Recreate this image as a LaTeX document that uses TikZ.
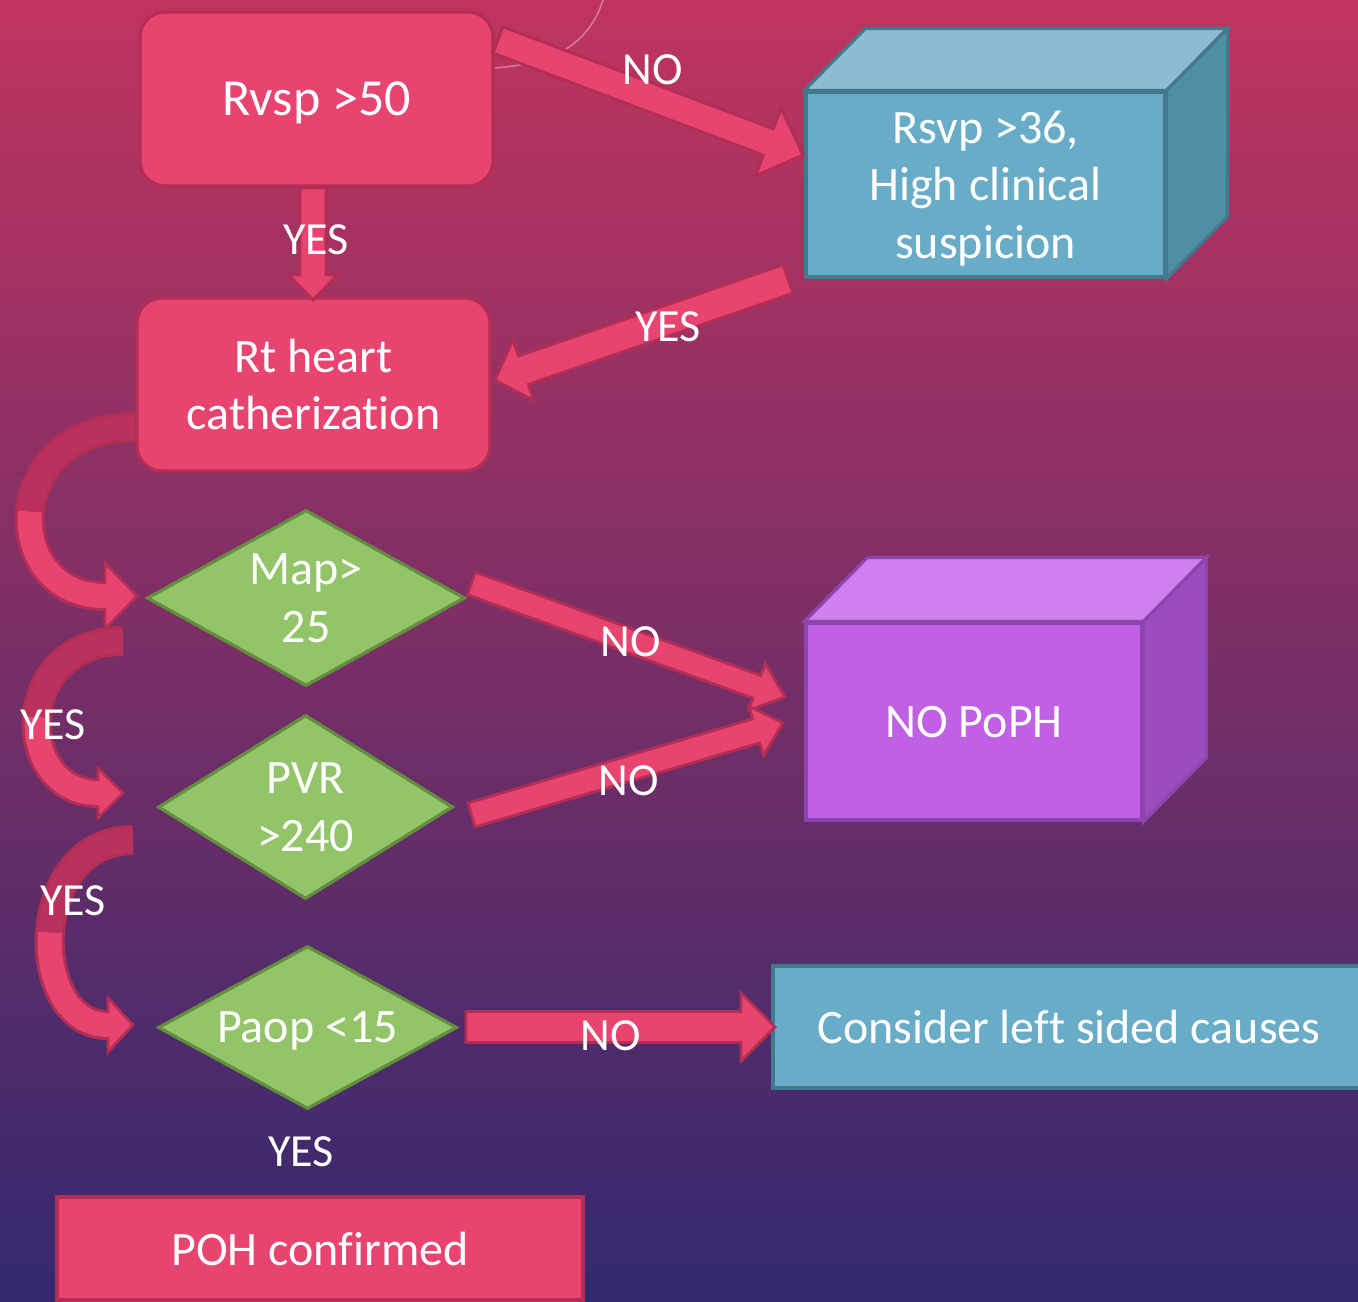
\documentclass[tikz,border=0pt]{standalone}
\usepackage{fontspec}
\setmainfont{Carlito}[Ligatures={NoCommon,NoContextual}]
\usetikzlibrary{calc,shapes.geometric}
\definecolor{bgtop}{RGB}{192,52,95}
\definecolor{bgmid}{RGB}{128,46,114}
\definecolor{bgbot}{RGB}{50,41,110}
\definecolor{pinkf}{RGB}{232,68,112}
\definecolor{pinkb}{RGB}{178,46,84}
\definecolor{pinkdark}{RGB}{185,49,92}
\definecolor{greenf}{RGB}{148,196,106}
\definecolor{greenb}{RGB}{98,142,62}
\definecolor{bluef}{RGB}{104,172,200}
\definecolor{bluetopc}{RGB}{138,189,211}
\definecolor{bluesidec}{RGB}{80,142,163}
\definecolor{blueb}{RGB}{66,121,141}
\definecolor{purf}{RGB}{192,96,229}
\definecolor{purtopc}{RGB}{206,128,238}
\definecolor{pursidec}{RGB}{155,77,190}
\definecolor{purb}{RGB}{141,69,173}
\newcommand\fatarrow[5]{%
  \coordinate (fa-h) at ($(#2)!#5!(#1)$);
  \draw[fatarr] ($(#1)!#3!90:(#2)$) -- ($(fa-h)!#3!90:(#2)$) -- ($(fa-h)!#4!90:(#2)$) -- (#2)
    -- ($(fa-h)!#4!-90:(#2)$) -- ($(fa-h)!#3!-90:(#2)$) -- ($(#1)!#3!-90:(#2)$) -- cycle;
}
\begin{document}
\begin{tikzpicture}[x=0.5pt,y=-0.5pt,
  txt/.style={text=white,font=\fontsize{24}{28.75}\selectfont,align=center,text depth=0pt},
  lbl/.style={text=white,font=\fontsize{23}{27}\selectfont,inner sep=0pt},
  pinkbox/.style={txt,draw=pinkb,fill=pinkf,line width=1.6pt,inner sep=0pt},
  greendia/.style={txt,diamond,draw=greenb,fill=greenf,line width=1.6pt,inner sep=0pt},
  fatarr/.style={draw=pinkb,fill=pinkf,line width=1.4pt,line join=miter},
  bandborder/.style={draw=pinkb,line width=15pt},
  bandlight/.style={draw=pinkf,line width=12pt},
  banddark/.style={draw=pinkdark,line width=12pt},
  headtri/.style={draw=pinkb,fill=pinkf,line width=1.4pt,line join=miter}]
\useasboundingbox (0,0) rectangle (1358,1301);
\clip (0,0) rectangle (1358,1301);
\shade[top color=bgtop,middle color=bgmid,bottom color=bgbot] (0,0) rectangle (1358,1301);
\draw[white,opacity=0.35,line width=0.8pt] (603,0) .. controls (590,40) and (560,64) .. (493,68);

% boxes
\node[pinkbox,rounded corners=12.5pt,minimum width=176.5pt,minimum height=87pt,font=\fontsize{26}{30}\selectfont] (rv) at (316.5,99) {Rvsp >50};
\node[pinkbox,rounded corners=12.5pt,minimum width=176.5pt,minimum height=86.5pt] (rt) at (313.5,384.5) {Rt heart\\catherization};

% blue 3D box
\node[txt,draw=blueb,fill=bluef,line width=1.6pt,minimum width=179.5pt,minimum height=92.5pt,inner sep=0pt] (rs) at (985.5,184.5) {Rsvp >36,\\High clinical\\suspicion};
\draw[draw=blueb,fill=bluetopc,line width=1.6pt,line join=miter] (rs.north west) -- ++(61,-62) -- ($(rs.north east)+(61,-62)$) -- (rs.north east) -- cycle;
\draw[draw=blueb,fill=bluesidec,line width=1.6pt,line join=miter] (rs.north east) -- ++(61,-62) -- ($(rs.south east)+(61,-62)$) -- (rs.south east) -- cycle;

% purple 3D box
\node[txt,draw=purb,fill=purf,line width=1.6pt,minimum width=168pt,minimum height=98.5pt,inner sep=0pt] (np) at (974,721.5) {NO PoPH};
\draw[draw=purb,fill=purtopc,line width=1.6pt,line join=miter] (np.north west) -- ++(63,-64) -- ($(np.north east)+(63,-64)$) -- (np.north east) -- cycle;
\draw[draw=purb,fill=pursidec,line width=1.6pt,line join=miter] (np.north east) -- ++(63,-64) -- ($(np.south east)+(63,-64)$) -- (np.south east) -- cycle;

% diamonds
\node[greendia,aspect=1.8,minimum width=159pt,minimum height=88pt] (map) at (306,598) {Map>\\25};
\node[greendia,aspect=1.6,minimum width=147.5pt,minimum height=92pt] (pvr) at (305.5,807) {PVR\\>240};
\node[greendia,aspect=1.83,minimum width=149.5pt,minimum height=81.5pt] (paop) at (307.5,1027.5) {Paop <15};

% other boxes
\node[txt,draw=blueb,fill=bluef,line width=1.6pt,minimum width=296pt,minimum height=61pt,inner sep=0pt] (cl) at (1069,1027) {Consider left sided causes};
\node[pinkbox,minimum width=263pt,minimum height=51.5pt] (poh) at (320,1248.5) {POH confirmed};

% straight fat arrows
\coordinate (a1s) at (498,40);   \coordinate (a1e) at (803,155);
\coordinate (a2s) at (313,188);  \coordinate (a2e) at (313,300);
\coordinate (a3s) at (788,279);  \coordinate (a3e) at (495,380);
\coordinate (a4s) at (471.5,583.5); \coordinate (a4e) at (785,697);
\coordinate (a5s) at (471.5,815); \coordinate (a5e) at (783,723);
\coordinate (a6s) at (466,1027); \coordinate (a6e) at (775,1027);
\fatarrow{a1s}{a1e}{7pt}{18pt}{18.5pt}
\fatarrow{a2s}{a2e}{6.5pt}{12pt}{12.5pt}
\fatarrow{a3s}{a3e}{7.5pt}{16pt}{15pt}
\fatarrow{a4s}{a4e}{6pt}{12.5pt}{15pt}
\fatarrow{a5s}{a5e}{6.25pt}{13pt}{14pt}
\fatarrow{a6s}{a6e}{7.75pt}{17pt}{17pt}

% curved arrows
\coordinate (c1s) at (135,427); \coordinate (c1m) at (30,511.5); \coordinate (c1e) at (105,596); \coordinate (c1t) at (137,596);
\coordinate (c2s) at (123,641); \coordinate (c2m) at (36.9,717); \coordinate (c2e) at (98,793); \coordinate (c2t) at (123,793);
\coordinate (c3s) at (133,840); \coordinate (c3m) at (50,932.5); \coordinate (c3e) at (108,1025); \coordinate (c3t) at (133,1025);
\draw[bandborder] (c1s) .. controls (67.5,427) and (33.75,469.25) .. (c1m) .. controls (26.25,553.75) and (52.5,596) .. (c1e);
\draw[bandborder] (c2s) .. controls (67.5,641) and (39.75,679) .. (c2m) .. controls (34,755) and (56,793) .. (c2e);
\draw[bandborder] (c3s) .. controls (79.75,840) and (53.1,886.25) .. (c3m) .. controls (46.9,978.75) and (67.25,1025) .. (c3e);
\draw[headtri] (c1t) -- (105,563) -- (105,629) -- cycle;
\draw[headtri] (c2t) -- (98,768) -- (98,818) -- cycle;
\draw[headtri] (c3t) -- (108,998) -- (108,1052) -- cycle;
\draw[banddark] (c1s) .. controls (67.5,427) and (33.75,469.25) .. (c1m);
\draw[bandlight] (c1m) .. controls (26.25,553.75) and (52.5,596) .. (c1e) -- ++(6,0);
\draw[banddark] (c2s) .. controls (67.5,641) and (39.75,679) .. (c2m);
\draw[bandlight] (c2m) .. controls (34,755) and (56,793) .. (c2e) -- ++(6,0);
\draw[banddark] (c3s) .. controls (79.75,840) and (53.1,886.25) .. (c3m);
\draw[bandlight] (c3m) .. controls (46.9,978.75) and (67.25,1025) .. (c3e) -- ++(6,0);

% labels
\node[lbl] (l1) at (653,70) {NO};
\node[lbl] (l2) at (316,240) {YES};
\node[lbl] (l3) at (668,327) {YES};
\node[lbl] (l4) at (631,642) {NO};
\node[lbl] (l5) at (629,781) {NO};
\node[lbl] (l6) at (611,1036) {NO};
\node[lbl] (l7) at (53,725) {YES};
\node[lbl] (l8) at (73,901) {YES};
\node[lbl] (l9) at (301,1152) {YES};
\end{tikzpicture}
\end{document}
